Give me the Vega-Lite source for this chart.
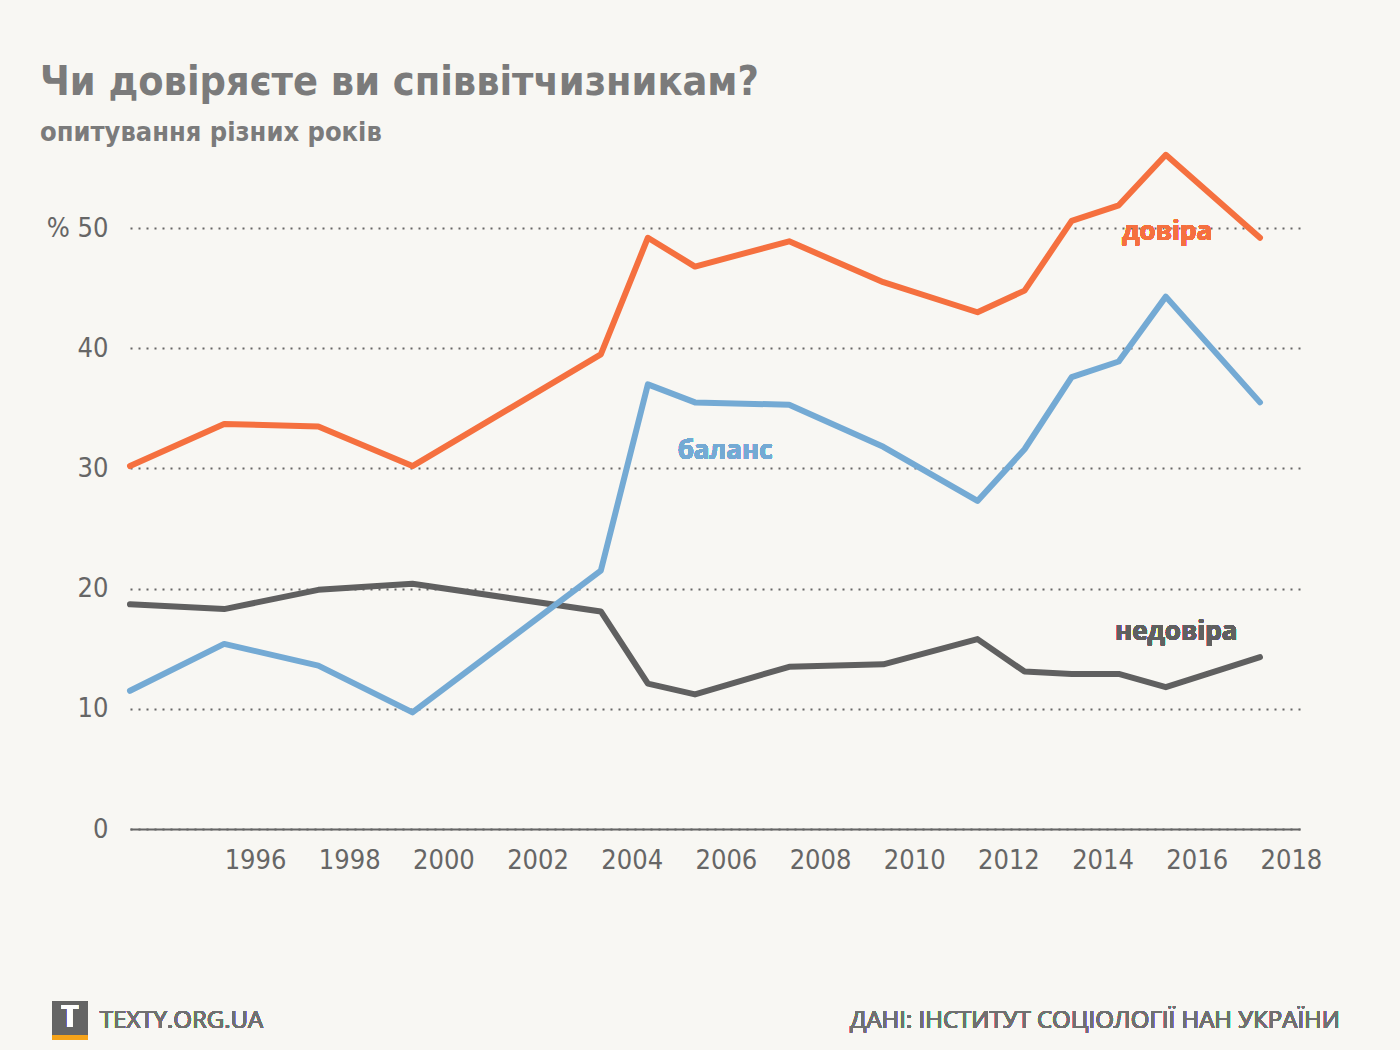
{
  "$schema": "https://vega.github.io/schema/vega-lite/v6.json",
  "autosize": {"type": "none"},
  "width": 1170,
  "height": 685,
  "padding": {"left": 130, "top": 144, "right": 100, "bottom": 221},
  "background": "#f8f7f3",
  "config": {"view": {"stroke": null}},
  "title": {
    "text": "Чи довіряєте ви співвітчизникам?",
    "subtitle": "опитування різних років",
    "anchor": "start",
    "frame": "group",
    "dx": -90,
    "offset": -3,
    "font": "DejaVu Sans Condensed",
    "fontSize": 41,
    "fontWeight": "bold",
    "color": "#7b7b7b",
    "subtitleFont": "DejaVu Sans Condensed",
    "subtitleFontSize": 27,
    "subtitleFontWeight": "bold",
    "subtitleColor": "#7b7b7b",
    "subtitlePadding": 16
  },
  "data": {
    "values": [
      {"year": 1994, "series": "довіра", "value": 30.2},
      {"year": 1996, "series": "довіра", "value": 33.7},
      {"year": 1998, "series": "довіра", "value": 33.5},
      {"year": 2000, "series": "довіра", "value": 30.2},
      {"year": 2004, "series": "довіра", "value": 39.5},
      {"year": 2005, "series": "довіра", "value": 49.2},
      {"year": 2006, "series": "довіра", "value": 46.8},
      {"year": 2008, "series": "довіра", "value": 48.9},
      {"year": 2010, "series": "довіра", "value": 45.5},
      {"year": 2012, "series": "довіра", "value": 43.0},
      {"year": 2013, "series": "довіра", "value": 44.8},
      {"year": 2014, "series": "довіра", "value": 50.6},
      {"year": 2015, "series": "довіра", "value": 51.9},
      {"year": 2016, "series": "довіра", "value": 56.1},
      {"year": 2018, "series": "довіра", "value": 49.2},
      {"year": 1994, "series": "недовіра", "value": 18.7},
      {"year": 1996, "series": "недовіра", "value": 18.3},
      {"year": 1998, "series": "недовіра", "value": 19.9},
      {"year": 2000, "series": "недовіра", "value": 20.4},
      {"year": 2004, "series": "недовіра", "value": 18.1},
      {"year": 2005, "series": "недовіра", "value": 12.1},
      {"year": 2006, "series": "недовіра", "value": 11.2},
      {"year": 2008, "series": "недовіра", "value": 13.5},
      {"year": 2010, "series": "недовіра", "value": 13.7},
      {"year": 2012, "series": "недовіра", "value": 15.8},
      {"year": 2013, "series": "недовіра", "value": 13.1},
      {"year": 2014, "series": "недовіра", "value": 12.9},
      {"year": 2015, "series": "недовіра", "value": 12.9},
      {"year": 2016, "series": "недовіра", "value": 11.8},
      {"year": 2018, "series": "недовіра", "value": 14.3},
      {"year": 1994, "series": "баланс", "value": 11.5},
      {"year": 1996, "series": "баланс", "value": 15.4},
      {"year": 1998, "series": "баланс", "value": 13.6},
      {"year": 2000, "series": "баланс", "value": 9.7},
      {"year": 2004, "series": "баланс", "value": 21.5},
      {"year": 2005, "series": "баланс", "value": 37.0},
      {"year": 2006, "series": "баланс", "value": 35.5},
      {"year": 2008, "series": "баланс", "value": 35.3},
      {"year": 2010, "series": "баланс", "value": 31.8},
      {"year": 2012, "series": "баланс", "value": 27.3},
      {"year": 2013, "series": "баланс", "value": 31.6},
      {"year": 2014, "series": "баланс", "value": 37.6},
      {"year": 2015, "series": "баланс", "value": 38.9},
      {"year": 2016, "series": "баланс", "value": 44.3},
      {"year": 2018, "series": "баланс", "value": 35.5}
    ]
  },
  "encoding": {
    "x": {
      "field": "year",
      "type": "quantitative",
      "scale": {"domain": [1994, 2018.85], "nice": false, "zero": false},
      "axis": {
        "values": [1996, 1998, 2000, 2002, 2004, 2006, 2008, 2010, 2012, 2014, 2016, 2018],
        "format": "d",
        "title": null,
        "grid": false,
        "ticks": false,
        "domainColor": "#666666",
        "domainWidth": 2,
        "labelAlign": "left",
        "labelBaseline": "top",
        "labelPadding": 18,
        "labelFont": "DejaVu Sans Condensed",
        "labelFontSize": 27,
        "labelColor": "#666666",
        "labelDx": -2
      }
    },
    "y": {
      "field": "value",
      "type": "quantitative",
      "scale": {"domain": [0, 57], "nice": false},
      "axis": {
        "values": [0, 10, 20, 30, 40, 50],
        "labelExpr": "datum.value == 50 ? '% 50' : datum.label",
        "title": null,
        "domain": false,
        "ticks": false,
        "grid": true,
        "gridColor": "#666666",
        "gridWidth": 2,
        "gridDash": [2, 6],
        "labelPadding": 22,
        "labelFont": "DejaVu Sans Condensed",
        "labelFontSize": 27,
        "labelColor": "#666666",
        "labelBaseline": "middle"
      }
    }
  },
  "layer": [
    {
      "mark": {"type": "line", "strokeWidth": 6, "strokeCap": "round", "strokeJoin": "round"},
      "encoding": {
        "color": {
          "field": "series",
          "type": "nominal",
          "scale": {"domain": ["довіра", "недовіра", "баланс"], "range": ["#f5703f", "#606060", "#74aad4"]},
          "legend": null
        }
      }
    },
    {
      "mark": {"type": "text", "font": "Open Sans", "fontWeight": "bold", "fontSize": 26, "color": "#f5703f", "align": "center", "baseline": "middle"},
      "encoding": {"x": {"datum": 2016.03}, "y": {"datum": 49.7}, "text": {"value": "довіра"}}
    },
    {
      "mark": {"type": "text", "font": "Open Sans", "fontWeight": "bold", "fontSize": 26, "color": "#74aad4", "align": "center", "baseline": "middle"},
      "encoding": {"x": {"datum": 2006.64}, "y": {"datum": 31.45}, "text": {"value": "баланс"}}
    },
    {
      "mark": {"type": "text", "font": "Open Sans", "fontWeight": "bold", "fontSize": 26, "color": "#606060", "align": "center", "baseline": "middle"},
      "encoding": {"x": {"datum": 2016.22}, "y": {"datum": 16.4}, "text": {"value": "недовіра"}}
    },
    {
      "mark": {"type": "point", "shape": "square", "filled": true, "opacity": 1, "size": 1190, "color": "#656565", "clip": false},
      "encoding": {"x": {"datum": 1992.725}, "y": {"datum": -15.8}}
    },
    {
      "mark": {"type": "rule", "color": "#f5a31a", "strokeWidth": 4, "clip": false},
      "encoding": {"x": {"datum": 1992.36}, "x2": {"datum": 1993.09}, "y": {"datum": -17.35}}
    },
    {
      "mark": {"type": "text", "font": "Open Sans", "fontWeight": "bold", "fontSize": 30, "color": "#ffffff", "align": "center", "baseline": "middle", "clip": false},
      "encoding": {"x": {"datum": 1992.725}, "y": {"datum": -15.7}, "text": {"value": "T"}}
    },
    {
      "mark": {"type": "text", "font": "Open Sans", "fontSize": 24, "color": "#707070", "align": "left", "baseline": "middle", "clip": false},
      "encoding": {"x": {"datum": 1993.36}, "y": {"datum": -15.95}, "text": {"value": "TEXTY.ORG.UA"}}
    },
    {
      "mark": {"type": "text", "font": "Open Sans", "fontSize": 24, "color": "#707070", "align": "right", "baseline": "middle", "clip": false},
      "encoding": {"x": {"datum": 2019.7}, "y": {"datum": -15.95}, "text": {"value": "ДАНІ: ІНСТИТУТ СОЦІОЛОГІЇ НАН УКРАЇНИ"}}
    }
  ]
}
